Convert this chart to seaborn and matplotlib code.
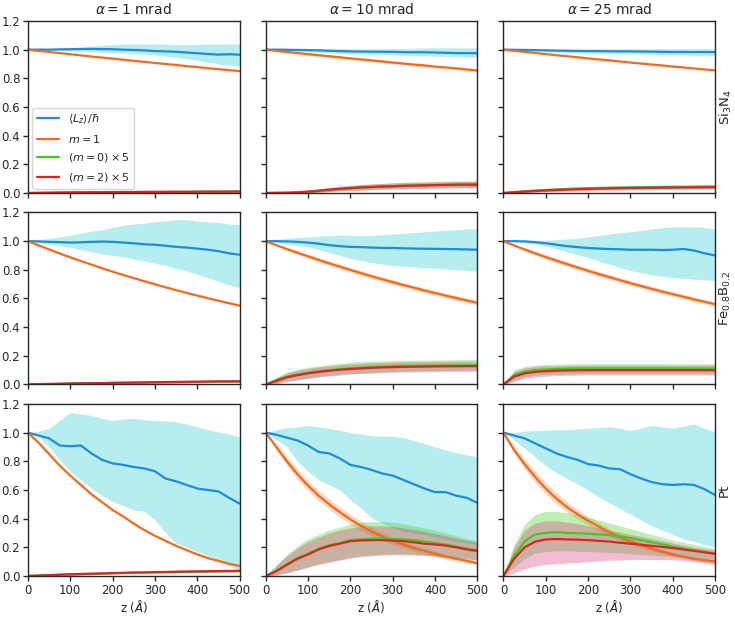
import matplotlib
matplotlib.use("Agg")
import matplotlib.pyplot as plt
from matplotlib.lines import Line2D
import numpy as np
import pandas as pd
import seaborn as sns

# ---------------- data ----------------
Z = [0, 25, 50, 75, 100, 125, 150, 175, 200, 225, 250, 275, 300, 325, 350, 375, 400, 425, 450, 475, 500]
row_labels = ["Si$_3$N$_4$", "Fe$_{0.8}$B$_{0.2}$", "Pt"]
col_alphas = [1, 10, 25]
series_keys = ["L", "m1", "m0", "m2"]
series_labels = [r"$\langle L_z\rangle/\hbar$", r"$m = 1$", r"$(m = 0)\times 5$", r"$(m = 2)\times 5$"]

# --- Si3N4, alpha = 1 mrad
si1_L = [1.0, 1.0, 1.0, 1.002, 1.003, 1.004, 1.005, 1.004, 1.003, 1.0, 0.998, 0.995, 0.99, 0.988, 0.985, 0.98, 0.975, 0.97, 0.965, 0.968, 0.965]
si1_L_hi = [1.0, 1.003, 1.006, 1.01, 1.015, 1.02, 1.025, 1.03, 1.035, 1.04, 1.04, 1.04, 1.04, 1.04, 1.035, 1.035, 1.035, 1.04, 1.04, 1.04, 1.04]
si1_L_lo = [1.0, 1.0, 0.998, 0.996, 0.993, 0.99, 0.987, 0.983, 0.98, 0.977, 0.973, 0.968, 0.962, 0.955, 0.947, 0.937, 0.925, 0.912, 0.9, 0.89, 0.885]
si1_m1 = [1.0, 0.992, 0.984, 0.976, 0.968, 0.96, 0.952, 0.945, 0.937, 0.93, 0.922, 0.915, 0.907, 0.9, 0.893, 0.885, 0.878, 0.871, 0.864, 0.857, 0.85]
si1_m0 = [0, 0.001, 0.002, 0.003, 0.004, 0.004, 0.005, 0.005, 0.006, 0.006, 0.007, 0.007, 0.007, 0.008, 0.008, 0.008, 0.009, 0.009, 0.009, 0.01, 0.01]
si1_m2 = [0, 0.001, 0.002, 0.003, 0.004, 0.005, 0.005, 0.006, 0.006, 0.007, 0.007, 0.008, 0.008, 0.008, 0.009, 0.009, 0.009, 0.01, 0.01, 0.01, 0.011]

# --- Si3N4, alpha = 10 mrad
si10_L = [1.0, 1.0, 0.999, 0.998, 0.997, 0.995, 0.992, 0.99, 0.988, 0.987, 0.986, 0.985, 0.985, 0.983, 0.982, 0.982, 0.98, 0.978, 0.976, 0.976, 0.975]
si10_L_hi = [1.0, 1.003, 1.006, 1.008, 1.008, 1.008, 1.007, 1.006, 1.005, 1.005, 1.005, 1.006, 1.007, 1.008, 1.01, 1.012, 1.013, 1.013, 1.012, 1.012, 1.012]
si10_L_lo = [1.0, 0.997, 0.993, 0.99, 0.987, 0.983, 0.978, 0.974, 0.971, 0.969, 0.967, 0.965, 0.963, 0.961, 0.959, 0.957, 0.955, 0.952, 0.95, 0.948, 0.946]
si10_m1 = [1.0, 0.992, 0.984, 0.977, 0.969, 0.961, 0.954, 0.947, 0.939, 0.932, 0.925, 0.918, 0.91, 0.903, 0.896, 0.89, 0.882, 0.876, 0.869, 0.862, 0.855]
si10_m1_hi = [1.0, 0.995, 0.99, 0.984, 0.977, 0.97, 0.963, 0.956, 0.948, 0.941, 0.934, 0.927, 0.919, 0.912, 0.905, 0.899, 0.891, 0.885, 0.878, 0.871, 0.864]
si10_m1_lo = [1.0, 0.989, 0.978, 0.97, 0.961, 0.952, 0.945, 0.938, 0.93, 0.923, 0.916, 0.909, 0.901, 0.894, 0.887, 0.881, 0.873, 0.867, 0.86, 0.853, 0.846]
si10_m0 = [0, 0.001, 0.002, 0.004, 0.008, 0.014, 0.02, 0.026, 0.032, 0.037, 0.042, 0.045, 0.048, 0.051, 0.053, 0.055, 0.057, 0.058, 0.06, 0.061, 0.062]
si10_m0_hi = [0, 0.002, 0.004, 0.008, 0.015, 0.024, 0.033, 0.042, 0.05, 0.057, 0.063, 0.067, 0.071, 0.074, 0.077, 0.079, 0.081, 0.083, 0.084, 0.085, 0.086]
si10_m0_lo = [0, 0, 0.001, 0.002, 0.003, 0.006, 0.01, 0.014, 0.018, 0.021, 0.025, 0.028, 0.03, 0.032, 0.034, 0.035, 0.037, 0.038, 0.039, 0.04, 0.041]
si10_m2 = [0, 0.001, 0.002, 0.005, 0.01, 0.016, 0.024, 0.03, 0.035, 0.039, 0.042, 0.045, 0.047, 0.05, 0.052, 0.053, 0.055, 0.056, 0.057, 0.058, 0.058]
si10_m2_hi = [0, 0.002, 0.005, 0.01, 0.018, 0.028, 0.04, 0.048, 0.055, 0.06, 0.064, 0.067, 0.07, 0.073, 0.075, 0.076, 0.078, 0.079, 0.08, 0.081, 0.081]
si10_m2_lo = [0, 0, 0.0, 0.001, 0.003, 0.006, 0.01, 0.014, 0.017, 0.02, 0.022, 0.025, 0.027, 0.029, 0.031, 0.032, 0.034, 0.035, 0.036, 0.037, 0.037]

# --- Si3N4, alpha = 25 mrad
si25_L = [1.0, 0.999, 0.998, 0.997, 0.995, 0.993, 0.992, 0.991, 0.99, 0.99, 0.989, 0.988, 0.988, 0.987, 0.986, 0.985, 0.984, 0.984, 0.983, 0.984, 0.983]
si25_L_hi = [1.0, 1.002, 1.003, 1.004, 1.004, 1.004, 1.004, 1.004, 1.004, 1.005, 1.005, 1.005, 1.006, 1.006, 1.006, 1.006, 1.006, 1.007, 1.007, 1.007, 1.007]
si25_L_lo = [1.0, 0.996, 0.993, 0.99, 0.987, 0.983, 0.98, 0.978, 0.976, 0.975, 0.973, 0.972, 0.97, 0.969, 0.967, 0.965, 0.963, 0.962, 0.96, 0.96, 0.959]
si25_m1 = [1.0, 0.992, 0.984, 0.977, 0.969, 0.961, 0.954, 0.947, 0.939, 0.932, 0.925, 0.918, 0.91, 0.903, 0.896, 0.89, 0.882, 0.876, 0.869, 0.862, 0.855]
si25_m0 = [0, 0.006, 0.012, 0.017, 0.021, 0.025, 0.028, 0.031, 0.033, 0.035, 0.036, 0.038, 0.039, 0.04, 0.041, 0.042, 0.043, 0.043, 0.044, 0.045, 0.045]
si25_m0_hi = [0, 0.01, 0.019, 0.026, 0.031, 0.036, 0.04, 0.043, 0.046, 0.048, 0.05, 0.051, 0.052, 0.053, 0.054, 0.055, 0.056, 0.056, 0.057, 0.058, 0.058]
si25_m0_lo = [0, 0.002, 0.006, 0.009, 0.012, 0.015, 0.017, 0.019, 0.021, 0.022, 0.023, 0.025, 0.026, 0.027, 0.028, 0.029, 0.03, 0.03, 0.031, 0.032, 0.032]
si25_m2 = [0, 0.005, 0.01, 0.014, 0.018, 0.021, 0.024, 0.027, 0.029, 0.031, 0.032, 0.034, 0.035, 0.036, 0.037, 0.038, 0.038, 0.039, 0.04, 0.04, 0.041]
si25_m2_hi = [0, 0.009, 0.017, 0.023, 0.028, 0.032, 0.035, 0.038, 0.041, 0.043, 0.044, 0.046, 0.047, 0.048, 0.049, 0.05, 0.05, 0.051, 0.052, 0.052, 0.053]
si25_m2_lo = [0, 0.001, 0.004, 0.006, 0.009, 0.011, 0.013, 0.016, 0.017, 0.019, 0.02, 0.022, 0.023, 0.024, 0.025, 0.026, 0.026, 0.027, 0.028, 0.028, 0.029]

# --- Fe0.8B0.2, alpha = 1 mrad
fe1_L = [1.0, 0.998, 0.995, 0.993, 0.99, 0.992, 0.995, 0.997, 0.995, 0.99, 0.985, 0.978, 0.975, 0.968, 0.96, 0.955, 0.948, 0.94, 0.93, 0.915, 0.905]
fe1_L_hi = [1.0, 1.01, 1.02, 1.03, 1.04, 1.055, 1.07, 1.08, 1.095, 1.11, 1.12, 1.125, 1.135, 1.14, 1.15, 1.15, 1.14, 1.135, 1.13, 1.12, 1.115]
fe1_L_lo = [1.0, 0.99, 0.98, 0.97, 0.955, 0.94, 0.925, 0.91, 0.9, 0.89, 0.875, 0.86, 0.845, 0.83, 0.81, 0.79, 0.77, 0.745, 0.72, 0.695, 0.675]
fe1_m1 = [1.0, 0.971, 0.942, 0.914, 0.887, 0.861, 0.836, 0.811, 0.787, 0.764, 0.742, 0.72, 0.699, 0.678, 0.658, 0.639, 0.62, 0.602, 0.584, 0.567, 0.55]
fe1_m0 = [0, 0.002, 0.003, 0.005, 0.006, 0.007, 0.008, 0.009, 0.01, 0.011, 0.012, 0.013, 0.014, 0.015, 0.016, 0.017, 0.017, 0.018, 0.019, 0.019, 0.02]
fe1_m2 = [0, 0.002, 0.004, 0.005, 0.007, 0.008, 0.009, 0.01, 0.012, 0.013, 0.014, 0.015, 0.016, 0.017, 0.018, 0.019, 0.02, 0.021, 0.022, 0.022, 0.023]

# --- Fe0.8B0.2, alpha = 10 mrad
fe10_L = [1.0, 1.0, 0.998, 0.995, 0.99, 0.982, 0.972, 0.965, 0.96, 0.958, 0.955, 0.953, 0.952, 0.95, 0.948, 0.947, 0.946, 0.945, 0.944, 0.942, 0.94]
fe10_L_hi = [1.0, 1.01, 1.02, 1.025, 1.03, 1.035, 1.04, 1.042, 1.04, 1.038, 1.04, 1.045, 1.05, 1.055, 1.06, 1.065, 1.07, 1.075, 1.08, 1.085, 1.085]
fe10_L_lo = [1.0, 0.99, 0.98, 0.97, 0.96, 0.94, 0.92, 0.9, 0.88, 0.865, 0.85, 0.84, 0.83, 0.825, 0.82, 0.815, 0.81, 0.805, 0.8, 0.795, 0.79]
fe10_m1 = [1.0, 0.972, 0.945, 0.919, 0.894, 0.869, 0.845, 0.822, 0.799, 0.777, 0.755, 0.734, 0.714, 0.694, 0.675, 0.656, 0.638, 0.62, 0.603, 0.586, 0.57]
fe10_m1_hi = [1.0, 0.978, 0.955, 0.932, 0.908, 0.884, 0.861, 0.838, 0.815, 0.793, 0.771, 0.75, 0.73, 0.71, 0.691, 0.672, 0.654, 0.636, 0.619, 0.602, 0.586]
fe10_m1_lo = [1.0, 0.966, 0.935, 0.906, 0.88, 0.854, 0.829, 0.806, 0.783, 0.761, 0.739, 0.718, 0.698, 0.678, 0.659, 0.64, 0.622, 0.604, 0.587, 0.57, 0.554]
fe10_m0 = [0, 0.03, 0.055, 0.07, 0.082, 0.092, 0.1, 0.107, 0.113, 0.118, 0.122, 0.125, 0.128, 0.13, 0.131, 0.132, 0.133, 0.133, 0.134, 0.134, 0.135]
fe10_m0_hi = [0, 0.05, 0.085, 0.105, 0.12, 0.13, 0.14, 0.148, 0.155, 0.16, 0.163, 0.165, 0.167, 0.168, 0.169, 0.17, 0.171, 0.172, 0.173, 0.174, 0.175]
fe10_m0_lo = [0, 0.01, 0.025, 0.035, 0.045, 0.055, 0.063, 0.07, 0.076, 0.08, 0.084, 0.087, 0.09, 0.092, 0.094, 0.095, 0.096, 0.097, 0.098, 0.099, 0.1]
fe10_m2 = [0, 0.025, 0.05, 0.065, 0.078, 0.088, 0.096, 0.103, 0.108, 0.112, 0.116, 0.119, 0.121, 0.123, 0.124, 0.125, 0.126, 0.127, 0.127, 0.128, 0.128]
fe10_m2_hi = [0, 0.045, 0.08, 0.1, 0.112, 0.122, 0.13, 0.137, 0.143, 0.147, 0.151, 0.154, 0.156, 0.158, 0.159, 0.16, 0.161, 0.162, 0.162, 0.163, 0.163]
fe10_m2_lo = [0, 0.005, 0.02, 0.03, 0.042, 0.052, 0.06, 0.066, 0.072, 0.076, 0.079, 0.082, 0.085, 0.087, 0.088, 0.089, 0.09, 0.091, 0.091, 0.092, 0.092]

# --- Fe0.8B0.2, alpha = 25 mrad
fe25_L = [1.0, 1.0, 0.998, 0.993, 0.985, 0.975, 0.965, 0.958, 0.952, 0.948, 0.945, 0.943, 0.94, 0.94, 0.94, 0.938, 0.94, 0.945, 0.935, 0.915, 0.9]
fe25_L_hi = [1.0, 1.003, 1.005, 1.006, 1.007, 1.01, 1.015, 1.02, 1.03, 1.04, 1.05, 1.06, 1.065, 1.075, 1.085, 1.095, 1.1, 1.1, 1.1, 1.095, 1.085]
fe25_L_lo = [1.0, 0.995, 0.99, 0.98, 0.965, 0.945, 0.925, 0.905, 0.885, 0.86, 0.84, 0.815, 0.795, 0.78, 0.765, 0.755, 0.745, 0.74, 0.735, 0.73, 0.725]
fe25_m1 = [1.0, 0.97, 0.942, 0.915, 0.889, 0.864, 0.84, 0.816, 0.793, 0.771, 0.749, 0.728, 0.707, 0.687, 0.667, 0.648, 0.63, 0.612, 0.594, 0.577, 0.56]
fe25_m1_hi = [1.0, 0.976, 0.953, 0.929, 0.904, 0.88, 0.856, 0.832, 0.809, 0.787, 0.765, 0.744, 0.723, 0.703, 0.683, 0.664, 0.646, 0.628, 0.61, 0.593, 0.576]
fe25_m1_lo = [1.0, 0.964, 0.931, 0.901, 0.874, 0.848, 0.824, 0.8, 0.777, 0.755, 0.733, 0.712, 0.691, 0.671, 0.651, 0.632, 0.614, 0.596, 0.578, 0.561, 0.544]
fe25_m0 = [0, 0.065, 0.09, 0.1, 0.105, 0.108, 0.11, 0.111, 0.112, 0.112, 0.112, 0.112, 0.112, 0.112, 0.112, 0.112, 0.112, 0.112, 0.111, 0.111, 0.111]
fe25_m0_hi = [0, 0.1, 0.125, 0.135, 0.14, 0.142, 0.144, 0.145, 0.146, 0.146, 0.146, 0.146, 0.146, 0.146, 0.146, 0.146, 0.145, 0.145, 0.145, 0.145, 0.145]
fe25_m0_lo = [0, 0.03, 0.055, 0.065, 0.07, 0.073, 0.075, 0.076, 0.077, 0.078, 0.078, 0.078, 0.078, 0.078, 0.078, 0.078, 0.078, 0.078, 0.078, 0.078, 0.078]
fe25_m2 = [0, 0.055, 0.078, 0.088, 0.093, 0.096, 0.098, 0.099, 0.1, 0.1, 0.1, 0.1, 0.1, 0.1, 0.1, 0.1, 0.1, 0.1, 0.1, 0.1, 0.1]
fe25_m2_hi = [0, 0.09, 0.115, 0.124, 0.128, 0.13, 0.132, 0.133, 0.134, 0.134, 0.134, 0.134, 0.134, 0.134, 0.134, 0.134, 0.134, 0.134, 0.134, 0.134, 0.134]
fe25_m2_lo = [0, 0.02, 0.042, 0.052, 0.058, 0.062, 0.064, 0.065, 0.066, 0.066, 0.066, 0.066, 0.066, 0.066, 0.066, 0.066, 0.066, 0.066, 0.066, 0.066, 0.066]

# --- Pt, alpha = 1 mrad
pt1_L = [1.0, 0.98, 0.96, 0.91, 0.905, 0.91, 0.855, 0.81, 0.785, 0.775, 0.76, 0.75, 0.73, 0.68, 0.66, 0.635, 0.61, 0.6, 0.59, 0.545, 0.505]
pt1_L_hi = [1.0, 1.01, 1.03, 1.085, 1.14, 1.13, 1.12, 1.1, 1.085, 1.095, 1.1, 1.09, 1.085, 1.08, 1.075, 1.06, 1.04, 1.02, 1.005, 0.99, 0.97]
pt1_L_lo = [1.0, 0.97, 0.9, 0.81, 0.73, 0.67, 0.61, 0.56, 0.52, 0.49, 0.46, 0.45, 0.39, 0.3, 0.23, 0.2, 0.17, 0.14, 0.115, 0.07, 0.035]
pt1_m1 = [1.0, 0.93, 0.85, 0.77, 0.7, 0.635, 0.57, 0.515, 0.46, 0.415, 0.365, 0.32, 0.28, 0.245, 0.21, 0.18, 0.15, 0.125, 0.105, 0.085, 0.07]
pt1_m0 = [0, 0.002, 0.005, 0.008, 0.01, 0.012, 0.014, 0.016, 0.018, 0.02, 0.022, 0.023, 0.025, 0.026, 0.027, 0.028, 0.029, 0.03, 0.031, 0.032, 0.033]
pt1_m2 = [0, 0.003, 0.006, 0.009, 0.012, 0.014, 0.016, 0.018, 0.02, 0.022, 0.024, 0.025, 0.027, 0.028, 0.03, 0.031, 0.032, 0.033, 0.034, 0.035, 0.036]

# --- Pt, alpha = 10 mrad
pt10_L = [1.0, 0.985, 0.965, 0.945, 0.91, 0.865, 0.855, 0.82, 0.775, 0.76, 0.74, 0.715, 0.7, 0.67, 0.64, 0.61, 0.585, 0.585, 0.56, 0.545, 0.51]
pt10_L_hi = [1.0, 1.02, 1.035, 1.04, 1.05, 1.04, 1.03, 1.015, 1.0, 0.99, 0.98, 0.975, 0.975, 0.965, 0.945, 0.925, 0.9, 0.88, 0.86, 0.845, 0.83]
pt10_L_lo = [1.0, 0.95, 0.9, 0.8, 0.73, 0.67, 0.635, 0.6, 0.53, 0.475, 0.405, 0.37, 0.335, 0.31, 0.3, 0.285, 0.27, 0.255, 0.24, 0.23, 0.22]
pt10_m1 = [1.0, 0.9, 0.8, 0.71, 0.63, 0.56, 0.5, 0.445, 0.395, 0.35, 0.31, 0.275, 0.245, 0.22, 0.195, 0.175, 0.155, 0.135, 0.12, 0.105, 0.09]
pt10_m1_hi = [1.0, 0.92, 0.83, 0.745, 0.665, 0.595, 0.535, 0.48, 0.43, 0.383, 0.34, 0.303, 0.27, 0.243, 0.217, 0.195, 0.173, 0.152, 0.135, 0.119, 0.103]
pt10_m1_lo = [1.0, 0.88, 0.77, 0.675, 0.595, 0.525, 0.465, 0.41, 0.36, 0.317, 0.28, 0.247, 0.22, 0.197, 0.173, 0.155, 0.137, 0.118, 0.105, 0.091, 0.077]
pt10_m0 = [0, 0.035, 0.08, 0.125, 0.155, 0.19, 0.215, 0.23, 0.25, 0.255, 0.26, 0.26, 0.258, 0.255, 0.25, 0.24, 0.23, 0.22, 0.205, 0.19, 0.18]
pt10_m0_hi = [0, 0.08, 0.15, 0.21, 0.26, 0.29, 0.32, 0.34, 0.36, 0.375, 0.38, 0.38, 0.375, 0.365, 0.35, 0.335, 0.32, 0.3, 0.28, 0.26, 0.245]
pt10_m0_lo = [0, 0.01, 0.025, 0.045, 0.065, 0.085, 0.1, 0.115, 0.13, 0.14, 0.148, 0.152, 0.154, 0.153, 0.15, 0.146, 0.14, 0.134, 0.127, 0.12, 0.113]
pt10_m2 = [0, 0.033, 0.078, 0.12, 0.15, 0.185, 0.21, 0.225, 0.243, 0.248, 0.25, 0.25, 0.247, 0.243, 0.235, 0.225, 0.22, 0.212, 0.2, 0.185, 0.175]
pt10_m2_hi = [0, 0.07, 0.14, 0.195, 0.24, 0.27, 0.3, 0.32, 0.335, 0.345, 0.35, 0.35, 0.345, 0.335, 0.325, 0.31, 0.295, 0.28, 0.265, 0.25, 0.235]
pt10_m2_lo = [0, 0.005, 0.02, 0.04, 0.06, 0.08, 0.095, 0.11, 0.125, 0.135, 0.14, 0.145, 0.147, 0.147, 0.145, 0.142, 0.137, 0.132, 0.125, 0.118, 0.11]

# --- Pt, alpha = 25 mrad
pt25_L = [1.0, 0.98, 0.96, 0.925, 0.89, 0.855, 0.83, 0.81, 0.78, 0.77, 0.75, 0.745, 0.71, 0.68, 0.655, 0.64, 0.635, 0.64, 0.635, 0.605, 0.565]
pt25_L_hi = [1.0, 1.0, 1.01, 1.015, 1.015, 1.02, 1.02, 1.025, 1.03, 1.035, 1.04, 1.03, 1.015, 1.03, 1.05, 1.04, 1.03, 1.045, 1.06, 1.03, 1.005]
pt25_L_lo = [1.0, 0.95, 0.89, 0.83, 0.77, 0.72, 0.68, 0.64, 0.6, 0.55, 0.51, 0.47, 0.43, 0.39, 0.35, 0.32, 0.29, 0.26, 0.24, 0.22, 0.2]
pt25_m1 = [1.0, 0.88, 0.78, 0.69, 0.61, 0.54, 0.48, 0.43, 0.385, 0.345, 0.305, 0.27, 0.24, 0.215, 0.19, 0.17, 0.15, 0.135, 0.12, 0.11, 0.1]
pt25_m1_hi = [1.0, 0.905, 0.815, 0.73, 0.65, 0.58, 0.515, 0.463, 0.415, 0.373, 0.33, 0.293, 0.261, 0.234, 0.207, 0.185, 0.164, 0.148, 0.132, 0.121, 0.11]
pt25_m1_lo = [1.0, 0.855, 0.745, 0.65, 0.57, 0.5, 0.445, 0.397, 0.355, 0.317, 0.28, 0.247, 0.219, 0.196, 0.173, 0.155, 0.136, 0.122, 0.108, 0.099, 0.09]
pt25_m0 = [0, 0.14, 0.24, 0.29, 0.3, 0.305, 0.3, 0.298, 0.295, 0.29, 0.285, 0.275, 0.265, 0.25, 0.235, 0.22, 0.205, 0.19, 0.18, 0.168, 0.155]
pt25_m0_hi = [0, 0.22, 0.36, 0.43, 0.45, 0.45, 0.44, 0.43, 0.41, 0.39, 0.37, 0.35, 0.33, 0.31, 0.29, 0.27, 0.25, 0.235, 0.22, 0.205, 0.19]
pt25_m0_lo = [0, 0.06, 0.12, 0.16, 0.17, 0.175, 0.175, 0.172, 0.17, 0.168, 0.165, 0.16, 0.155, 0.15, 0.145, 0.14, 0.135, 0.13, 0.125, 0.12, 0.115]
pt25_m2 = [0, 0.12, 0.2, 0.24, 0.255, 0.258, 0.255, 0.253, 0.25, 0.245, 0.24, 0.232, 0.225, 0.218, 0.21, 0.203, 0.195, 0.185, 0.175, 0.165, 0.155]
pt25_m2_hi = [0, 0.2, 0.32, 0.37, 0.385, 0.385, 0.375, 0.365, 0.35, 0.335, 0.32, 0.305, 0.29, 0.275, 0.26, 0.245, 0.23, 0.215, 0.2, 0.19, 0.18]
pt25_m2_lo = [0, 0.02, 0.05, 0.07, 0.08, 0.085, 0.09, 0.095, 0.1, 0.105, 0.11, 0.112, 0.114, 0.115, 0.115, 0.114, 0.112, 0.108, 0.1, 0.09, 0.08]

# panel table: (row, col) -> series -> (line, lo, hi)
panels = {
    (0, 0): {"L": (si1_L, si1_L_lo, si1_L_hi), "m1": (si1_m1, None, None),
             "m0": (si1_m0, None, None), "m2": (si1_m2, None, None)},
    (0, 1): {"L": (si10_L, si10_L_lo, si10_L_hi), "m1": (si10_m1, si10_m1_lo, si10_m1_hi),
             "m0": (si10_m0, si10_m0_lo, si10_m0_hi), "m2": (si10_m2, si10_m2_lo, si10_m2_hi)},
    (0, 2): {"L": (si25_L, si25_L_lo, si25_L_hi), "m1": (si25_m1, None, None),
             "m0": (si25_m0, si25_m0_lo, si25_m0_hi), "m2": (si25_m2, si25_m2_lo, si25_m2_hi)},
    (1, 0): {"L": (fe1_L, fe1_L_lo, fe1_L_hi), "m1": (fe1_m1, None, None),
             "m0": (fe1_m0, None, None), "m2": (fe1_m2, None, None)},
    (1, 1): {"L": (fe10_L, fe10_L_lo, fe10_L_hi), "m1": (fe10_m1, fe10_m1_lo, fe10_m1_hi),
             "m0": (fe10_m0, fe10_m0_lo, fe10_m0_hi), "m2": (fe10_m2, fe10_m2_lo, fe10_m2_hi)},
    (1, 2): {"L": (fe25_L, fe25_L_lo, fe25_L_hi), "m1": (fe25_m1, fe25_m1_lo, fe25_m1_hi),
             "m0": (fe25_m0, fe25_m0_lo, fe25_m0_hi), "m2": (fe25_m2, fe25_m2_lo, fe25_m2_hi)},
    (2, 0): {"L": (pt1_L, pt1_L_lo, pt1_L_hi), "m1": (pt1_m1, None, None),
             "m0": (pt1_m0, None, None), "m2": (pt1_m2, None, None)},
    (2, 1): {"L": (pt10_L, pt10_L_lo, pt10_L_hi), "m1": (pt10_m1, pt10_m1_lo, pt10_m1_hi),
             "m0": (pt10_m0, pt10_m0_lo, pt10_m0_hi), "m2": (pt10_m2, pt10_m2_lo, pt10_m2_hi)},
    (2, 2): {"L": (pt25_L, pt25_L_lo, pt25_L_hi), "m1": (pt25_m1, pt25_m1_lo, pt25_m1_hi),
             "m0": (pt25_m0, pt25_m0_lo, pt25_m0_hi), "m2": (pt25_m2, pt25_m2_lo, pt25_m2_hi)},
}

# ---------------- style ----------------
line_colors = {"L": "#1f8bd9", "m1": "#f26a1b", "m0": "#44c81f", "m2": "#dc2424"}
band_colors = {"L": "#10c4cc", "m1": "#f47a28", "m0": "#3fd020", "m2": "#d93078"}
band_alpha = {"L": 0.30, "m1": 0.30, "m0": 0.33, "m2": 0.32}

sns.set_style("ticks")
plt.rcParams["font.family"] = ["DejaVu Sans"]
plt.rcParams["xtick.labelsize"] = 8.5
plt.rcParams["ytick.labelsize"] = 8.5

records = []
for (r, c), ser in panels.items():
    for key in series_keys:
        vals = ser[key][0]
        for zz, v in zip(Z, vals):
            records.append({"row": r, "col": c, "series": key, "z": zz, "value": v})
df = pd.DataFrame(records)

fig, axes = plt.subplots(3, 3, figsize=(7.35, 6.17), dpi=100, sharex=True, sharey=True)
fig.subplots_adjust(left=0.038, right=0.973, top=0.966, bottom=0.0665, wspace=0.123, hspace=0.113)

for (r, c), ser in panels.items():
    ax = axes[r, c]
    for key in series_keys:
        vals, lo, hi = ser[key]
        if lo is not None:
            ax.fill_between(Z, lo, hi, color=band_colors[key], alpha=band_alpha[key], lw=0)
    sub = df[(df["row"] == r) & (df["col"] == c)]
    sns.lineplot(data=sub, x="z", y="value", hue="series", hue_order=series_keys,
                 palette=line_colors, ax=ax, legend=False, lw=1.6, errorbar=None)
    ax.set_xlim(0, 500)
    ax.set_ylim(0, 1.2)
    ax.set_xticks([0, 100, 200, 300, 400, 500])
    ax.set_yticks([0.0, 0.2, 0.4, 0.6, 0.8, 1.0, 1.2])
    ax.set_ylabel("")
    if r == 2:
        ax.set_xlabel("z ($\\AA$)", fontsize=8.5, labelpad=1)
    else:
        ax.set_xlabel("")
    for sp in ax.spines.values():
        sp.set_visible(True)
        sp.set_linewidth(1.0)
    ax.tick_params(length=3.5, width=1, pad=2)
    if r == 0:
        ax.set_title(r"$\alpha = %d$ mrad" % col_alphas[c], fontsize=10, pad=5)
    if c == 2:
        ax.text(1.012, 0.5, row_labels[r], transform=ax.transAxes, rotation=90,
                va="center", ha="left", fontsize=9.5)

axes[2, 0].set_yticklabels(["0.0", "0.2", "0.4", "0.6", "0.8", "1.0", "1.2"])

handles = [Line2D([0], [0], color=line_colors[k], lw=1.6) for k in series_keys]
axes[0, 0].legend(handles, series_labels, loc="lower left", fontsize=8,
                  frameon=True, borderaxespad=0.4, handlelength=2.0, labelspacing=0.6)

fig.savefig("out.png", dpi=100)
